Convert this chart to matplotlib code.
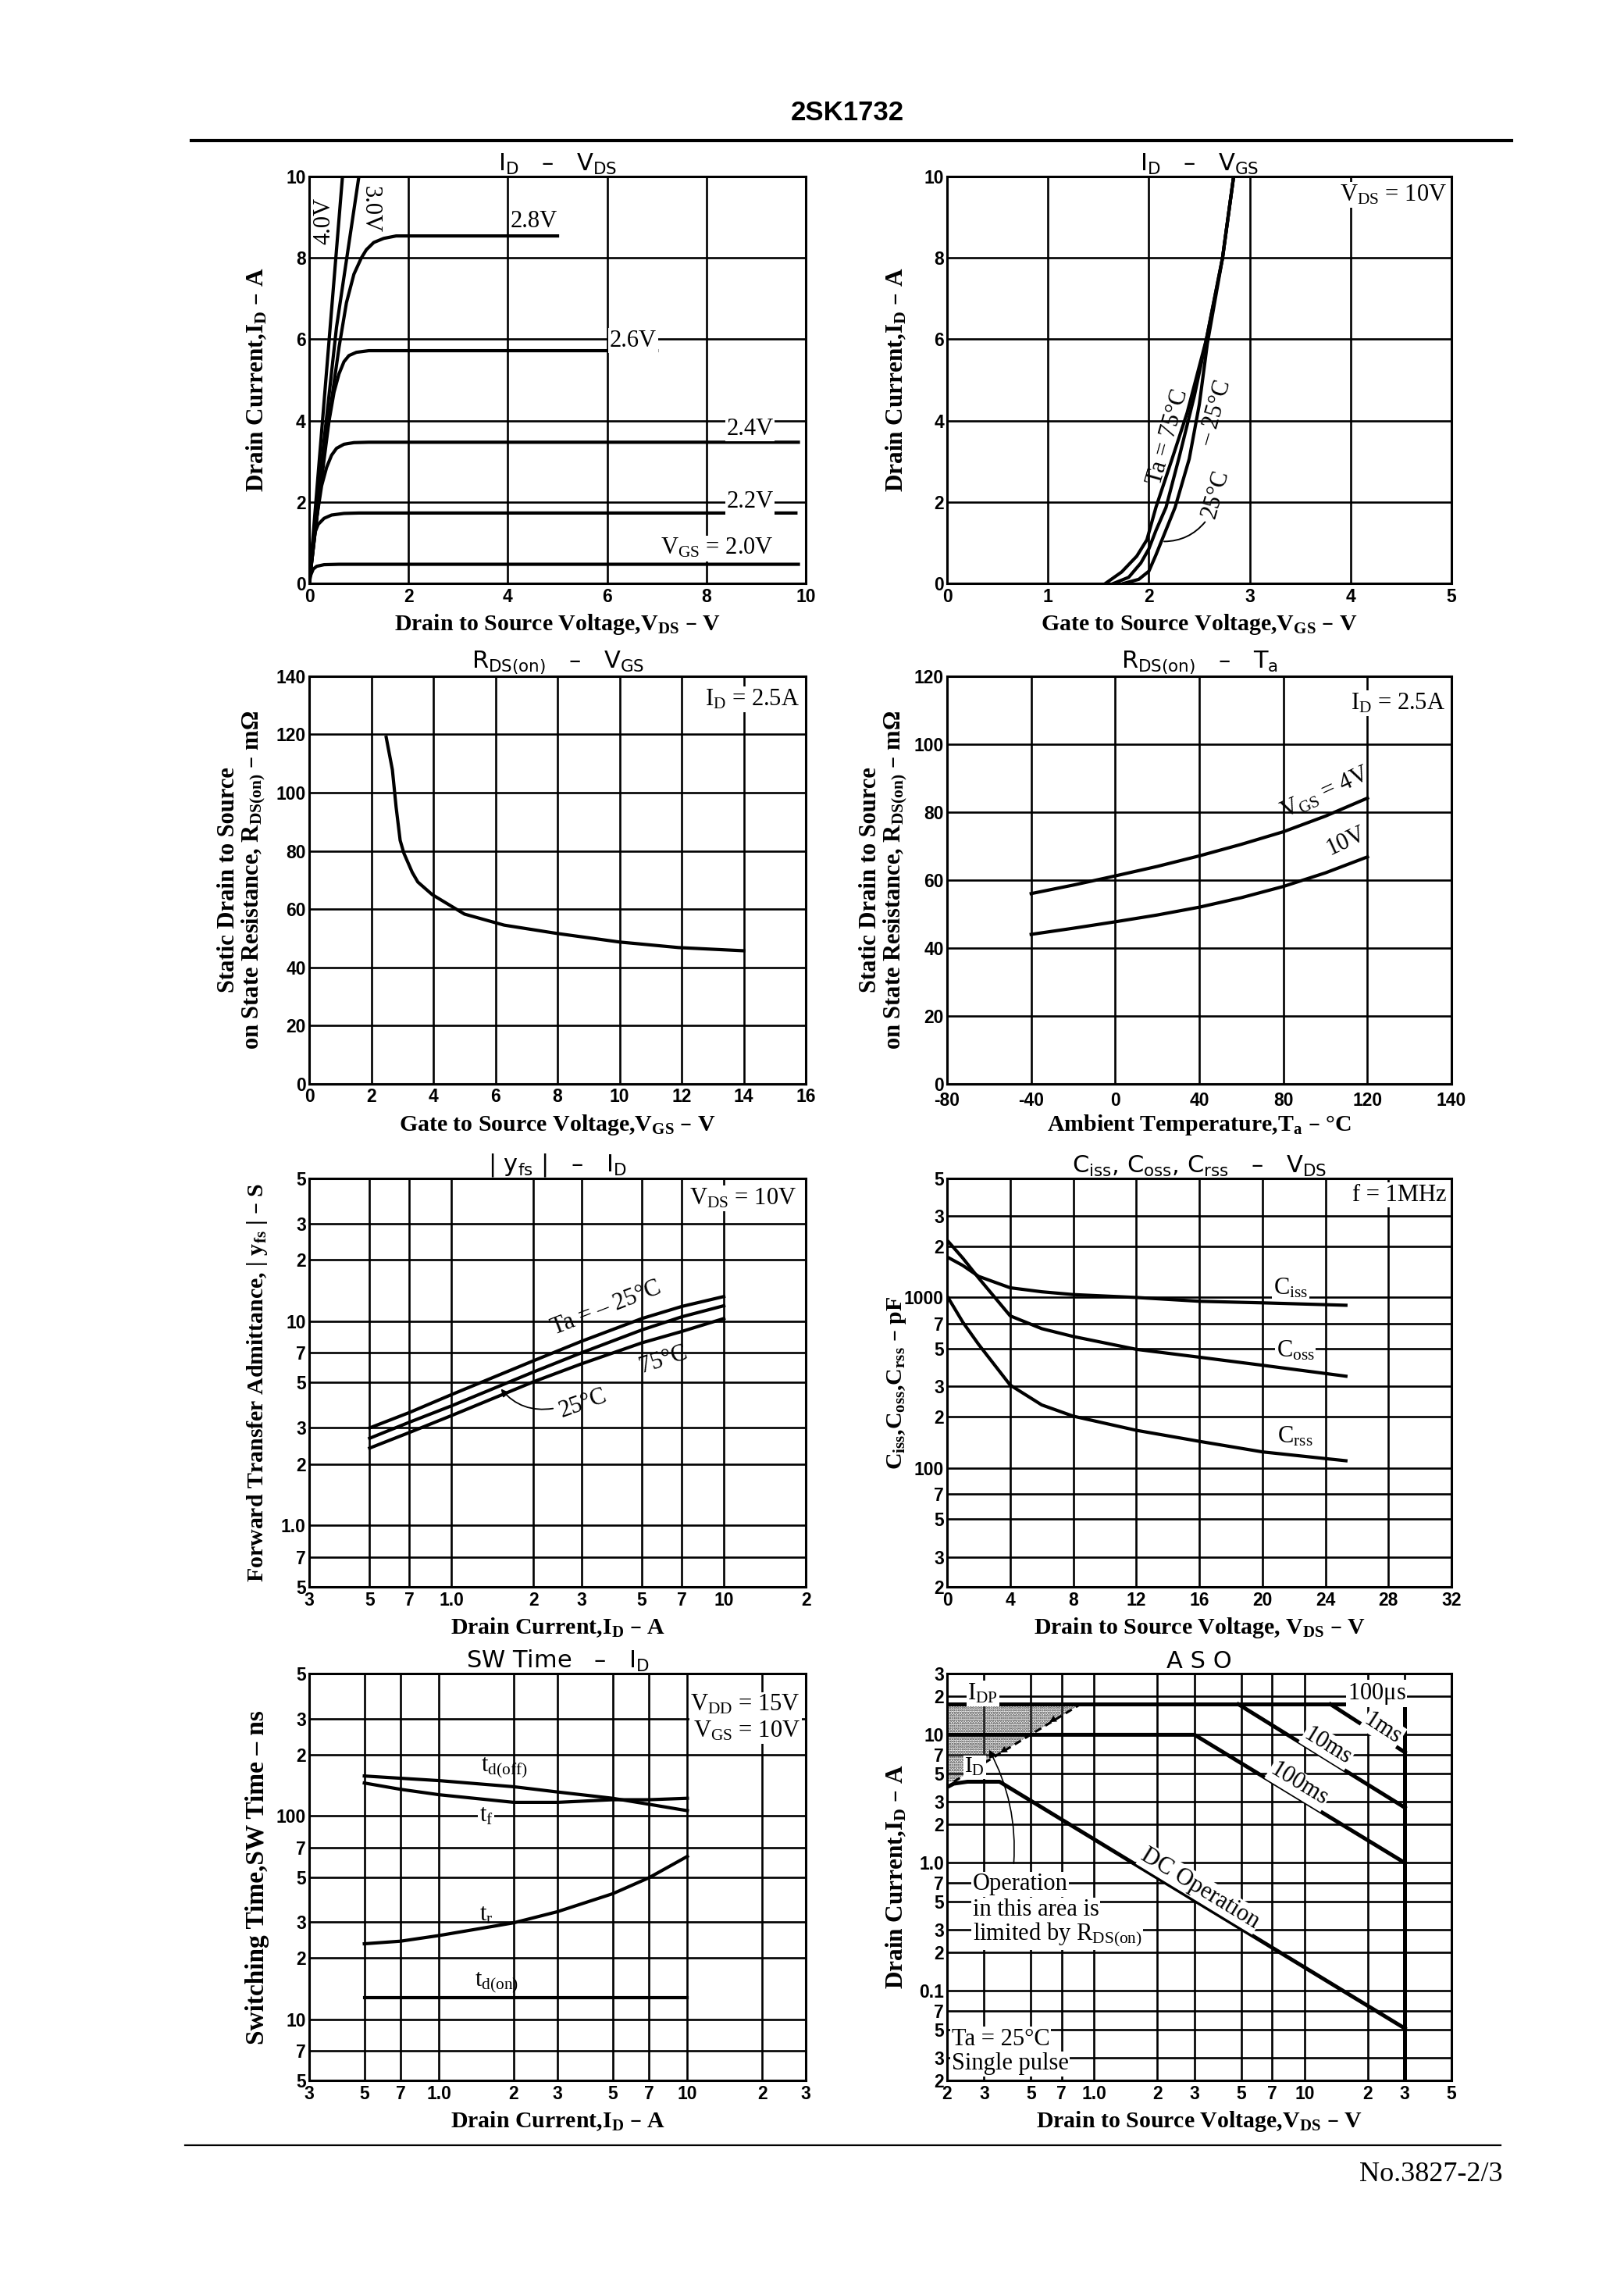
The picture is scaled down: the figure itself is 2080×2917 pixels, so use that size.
import numpy as np
import matplotlib
matplotlib.use("Agg")
import matplotlib.pyplot as plt
from matplotlib.ticker import FixedLocator, NullLocator, FixedFormatter

plt.rcParams['mathtext.default'] = 'regular'
plt.rcParams['hatch.linewidth'] = 1.6

SERIF = ['Liberation Serif', 'DejaVu Serif']
NARROW = ['Liberation Sans Narrow', 'Liberation Sans', 'DejaVu Sans']
SANS = ['DejaVu Sans']

# ---------------- DATA ----------------
# ID - VDS
idvds_vds_20 = [0, 0.03, 0.08, 0.15, 0.3, 0.6, 9.85]
idvds_id_20 = [0, 0.2, 0.35, 0.42, 0.46, 0.47, 0.47]
idvds_vds_22 = [0, 0.05, 0.1, 0.18, 0.3, 0.45, 0.7, 1.0, 9.8]
idvds_id_22 = [0, 0.8, 1.2, 1.45, 1.6, 1.68, 1.72, 1.73, 1.73]
idvds_vds_24 = [0, 0.15, 0.25, 0.35, 0.45, 0.55, 0.7, 0.9, 1.2, 9.85]
idvds_id_24 = [0, 1.6, 2.4, 2.85, 3.15, 3.32, 3.42, 3.46, 3.47, 3.47]
idvds_vds_26 = [0, 0.2, 0.4, 0.5, 0.6, 0.7, 0.8, 0.95, 1.2, 7.0]
idvds_id_26 = [0, 2.1, 4.0, 4.7, 5.15, 5.45, 5.6, 5.68, 5.72, 5.72]
idvds_vds_28 = [0, 0.3, 0.6, 0.75, 0.9, 1.05, 1.15, 1.3, 1.5, 1.75, 5.0]
idvds_id_28 = [0, 3.2, 5.8, 6.9, 7.6, 8.0, 8.2, 8.38, 8.48, 8.54, 8.54]
idvds_vds_30 = [0, 0.28, 0.55, 1.0]
idvds_id_30 = [0, 3.3, 6.3, 10.0]
idvds_vds_40 = [0, 0.67]
idvds_id_40 = [0, 10.0]

# ID - VGS
idvgs_vgs_75 = [1.57, 1.73, 1.88, 1.98, 2.07, 2.23, 2.38, 2.57, 2.73, 2.84]
idvgs_id_75 = [0, 0.28, 0.67, 1.07, 1.87, 3.06, 4.2, 6.0, 8.0, 10.0]
idvgs_vgs_25 = [1.65, 1.8, 1.92, 2.0, 2.07, 2.17, 2.3, 2.45, 2.57, 2.73, 2.84]
idvgs_id_25 = [0, 0.15, 0.5, 0.85, 1.3, 1.87, 3.1, 4.6, 6.0, 8.0, 10.0]
idvgs_vgs_m25 = [1.75, 1.9, 2.0, 2.07, 2.13, 2.26, 2.4, 2.5, 2.58, 2.73, 2.84]
idvgs_id_m25 = [0, 0.1, 0.3, 0.7, 1.07, 1.87, 3.06, 4.4, 5.9, 8.0, 10.0]

# RDS(on) - VGS
rdsvgs_vgs = [2.48, 2.68, 2.8, 2.93, 3.05, 3.32, 3.5, 3.96, 5.0, 6.28, 7.95, 10.0, 11.9, 14.0]
rdsvgs_r = [119, 107.8, 95, 83.6, 79.2, 72.6, 69.3, 65, 58.3, 54.5, 51.7, 48.7, 46.8, 45.7]

# RDS(on) - Ta
rdsta_ta = [-40, -20, 0, 20, 40, 60, 80, 100, 120]
rdsta_r_4v = [56.0, 58.5, 61.2, 64.0, 67.1, 70.5, 74.2, 78.8, 84.1]
rdsta_r_10v = [44.0, 45.8, 47.7, 49.7, 52.0, 54.8, 58.1, 62.1, 66.8]
rdsta_xtick_labels = ['-80', '-40', '0', '40', '80', '120', '140']

# |yfs| - ID
yfs_id = [0.5, 0.7, 1, 2, 3, 5, 7, 10]
yfs_m25 = [3.0, 3.57, 4.37, 6.4, 7.97, 10.3, 11.8, 13.2]
yfs_25 = [2.67, 3.2, 3.85, 5.64, 7.0, 9.06, 10.5, 11.9]
yfs_75 = [2.39, 2.85, 3.45, 5.05, 6.18, 7.83, 8.9, 10.3]

# Capacitance - VDS
cap_vds = [0, 1, 2, 4, 6, 8, 12, 16, 20, 25.3]
cap_ciss = [1730, 1540, 1330, 1140, 1080, 1040, 1000, 950, 930, 900]
cap_coss = [2170, 1700, 1300, 780, 656, 590, 496, 446, 400, 345]
cap_crss = [1020, 715, 530, 306, 234, 201, 166, 143, 124, 110]

# SW Time - ID
sw_id = [0.5, 0.7, 1, 2, 3, 5, 7, 10]
sw_tdoff = [157, 153, 149, 139, 131, 122, 114, 106]
sw_tf = [145, 135, 127, 116.5, 116.5, 120, 120, 122]
sw_tr = [23.5, 24.2, 25.8, 29.8, 33.8, 41.4, 49.6, 63.2]
sw_tdon_id = [0.5, 10]
sw_tdon = [12.8, 12.8]

# ASO
aso_idp_v = [0.2, 30]
aso_idp_i = [17.3, 17.3]
aso_vdss_v = [30, 30]
aso_vdss_i = [17.3, 0.02]
aso_1ms_v = [13.3, 30]
aso_1ms_i = [17.3, 7.3]
aso_10ms_v = [4.85, 30]
aso_10ms_i = [17.3, 2.7]
aso_100ms_v = [0.2, 3.0, 30]
aso_100ms_i = [10, 10, 1.0]
aso_dc_v = [0.2, 0.215, 0.25, 0.355, 30]
aso_dc_i = [3.9, 4.15, 4.3, 4.3, 0.051]
aso_rds_v = [0.215, 0.86]
aso_rds_i = [4.3, 17.3]

# log tick labels
yfs_xticks = [0.3, 0.5, 0.7, 1, 2, 3, 5, 7, 10, 20]
yfs_xlabels = ['3', '5', '7', '1.0', '2', '3', '5', '7', '10', '2']
yfs_yticks = [0.5, 0.7, 1, 2, 3, 5, 7, 10, 20, 30, 50]
yfs_ylabels = ['5', '7', '1.0', '2', '3', '5', '7', '10', '2', '3', '5']
cap_yticks = [20, 30, 50, 70, 100, 200, 300, 500, 700, 1000, 2000, 3000, 5000]
cap_ylabels = ['2', '3', '5', '7', '100', '2', '3', '5', '7', '1000', '2', '3', '5']
sw_xticks = [0.3, 0.5, 0.7, 1, 2, 3, 5, 7, 10, 20, 30]
sw_xlabels = ['3', '5', '7', '1.0', '2', '3', '5', '7', '10', '2', '3']
sw_yticks = [5, 7, 10, 20, 30, 50, 70, 100, 200, 300, 500]
sw_ylabels = ['5', '7', '10', '2', '3', '5', '7', '100', '2', '3', '5']
aso_xticks = [0.2, 0.3, 0.5, 0.7, 1, 2, 3, 5, 7, 10, 20, 30, 50]
aso_xlabels = ['2', '3', '5', '7', '1.0', '2', '3', '5', '7', '10', '2', '3', '5']
aso_yticks = [0.02, 0.03, 0.05, 0.07, 0.1, 0.2, 0.3, 0.5, 0.7, 1, 2, 3, 5, 7, 10, 20, 30]
aso_ylabels = ['2', '3', '5', '7', '0.1', '2', '3', '5', '7', '1.0', '2', '3', '5', '7', '10', '2', '3']

# ---------------- STYLE ----------------
GRID_LW = 1.9
CURVE_LW = 3.0
SPINE_LW = 2.2
TICK_FS = 16.5
LABEL_FS = 21.5
TITLE_FS = 22
ANN_FS = 22
WB = dict(facecolor='white', edgecolor='none', pad=1.0)

fig = plt.figure(figsize=(20.8, 29.17), dpi=100)

LX, LW = 0.1904, 0.3058
RX, RW = 0.5832, 0.3106
ROWS = [(0.7439, 0.1786), (0.5242, 0.1790), (0.3034, 0.1793), (0.0867, 0.1786)]


def make_ax(col, row):
    b, h = ROWS[row]
    if col == 0:
        return fig.add_axes([LX, b, LW, h])
    return fig.add_axes([RX, b, RW, h])


def setup(ax, xlim, ylim, xticks, xlabels, yticks, ylabels, xlog=False, ylog=False,
          title='', xlabel='', ylabel='', ylab_x=-0.105, xpad=4, ylab_fs=LABEL_FS):
    if xlog:
        ax.set_xscale('log')
    if ylog:
        ax.set_yscale('log')
    ax.set_xlim(*xlim)
    ax.set_ylim(*ylim)
    ax.xaxis.set_major_locator(FixedLocator(xticks))
    ax.xaxis.set_major_formatter(FixedFormatter(xlabels))
    ax.yaxis.set_major_locator(FixedLocator(yticks))
    ax.yaxis.set_major_formatter(FixedFormatter(ylabels))
    ax.xaxis.set_minor_locator(NullLocator())
    ax.yaxis.set_minor_locator(NullLocator())
    ax.grid(True, which='major', color='black', lw=GRID_LW)
    ax.tick_params(length=0, pad=3, labelsize=TICK_FS)
    ax.tick_params(axis='x', pad=xpad)
    for lab in ax.get_xticklabels() + ax.get_yticklabels():
        lab.set_family(NARROW)
        lab.set_fontweight('bold')
    for s in ax.spines.values():
        s.set_linewidth(SPINE_LW)
    ax.set_title(title, fontsize=TITLE_FS, family=SANS, pad=5)
    ax.set_xlabel(xlabel, fontsize=LABEL_FS, family=SERIF, fontweight='bold', va='center')
    ax.xaxis.set_label_coords(0.5, -0.1)
    ax.set_ylabel(ylabel, fontsize=ylab_fs, family=SERIF, fontweight='bold', va='center',
                  linespacing=1.0)
    ax.yaxis.set_label_coords(ylab_x, 0.5)


def txt(ax, x, y, s, ha='center', va='center', rot=0, box=True, fs=ANN_FS, **kw):
    ax.text(x, y, s, ha=ha, va=va, rotation=rot, fontsize=fs, family=SERIF,
            bbox=WB if box else None, zorder=5, rotation_mode='anchor', **kw)


def seg_angle(ax, p1, p2):
    a = ax.transData.transform([p1, p2])
    return np.degrees(np.arctan2(a[1, 1] - a[0, 1], a[1, 0] - a[0, 0]))


# ---------- Chart 1: ID - VDS ----------
ax = make_ax(0, 0)
setup(ax, (0, 10), (0, 10), [0, 2, 4, 6, 8, 10], ['0', '2', '4', '6', '8', '10'],
      [0, 2, 4, 6, 8, 10], ['0', '2', '4', '6', '8', '10'],
      title='$I_D$   –   $V_{DS}$', xlabel='Drain to Source Voltage,$V_{DS}$ – V',
      ylabel='Drain Current,$I_D$ – A', ylab_fs=22.5)
for xs, ys in [(idvds_vds_20, idvds_id_20), (idvds_vds_22, idvds_id_22),
               (idvds_vds_24, idvds_id_24), (idvds_vds_26, idvds_id_26),
               (idvds_vds_28, idvds_id_28), (idvds_vds_30, idvds_id_30),
               (idvds_vds_40, idvds_id_40)]:
    ax.plot(xs, ys, color='k', lw=CURVE_LW, solid_joinstyle='round', zorder=3)
txt(ax, 0.3, 8.9, '4.0V', rot=90, box=False)
txt(ax, 1.22, 9.2, '3.0V', rot=-90, box=False)
txt(ax, 4.05, 8.62, '2.8V', ha='left', va='bottom')
txt(ax, 6.05, 5.97, '2.6V', ha='left')
txt(ax, 9.35, 3.8, '2.4V', ha='right')
txt(ax, 9.35, 2.0, '2.2V', ha='right')
txt(ax, 9.35, 0.86, '$V_{GS}$ = 2.0V', ha='right')

# ---------- Chart 2: ID - VGS ----------
ax = make_ax(1, 0)
setup(ax, (0, 5), (0, 10), [0, 1, 2, 3, 4, 5], ['0', '1', '2', '3', '4', '5'],
      [0, 2, 4, 6, 8, 10], ['0', '2', '4', '6', '8', '10'],
      title='$I_D$   –   $V_{GS}$', xlabel='Gate to Source Voltage,$V_{GS}$ – V',
      ylabel='Drain Current,$I_D$ – A', ylab_x=-0.1, ylab_fs=22.5)
for xs, ys in [(idvgs_vgs_75, idvgs_id_75), (idvgs_vgs_25, idvgs_id_25),
               (idvgs_vgs_m25, idvgs_id_m25)]:
    ax.plot(xs, ys, color='k', lw=CURVE_LW, zorder=3)
txt(ax, 2.19, 3.6, 'Ta = 75°C', rot=74, box=False)
txt(ax, 2.66, 4.2, '– 25°C', rot=74, box=False)
txt(ax, 2.66, 2.2, '25°C', rot=74, box=False)
ax.annotate('', xy=(2.13, 1.03), xytext=(2.57, 1.55),
            arrowprops=dict(arrowstyle='-', lw=1.4, connectionstyle='arc3,rad=-0.25'))
txt(ax, 4.95, 9.55, '$V_{DS}$ = 10V', ha='right')

# ---------- Chart 3: RDS(on) - VGS ----------
ax = make_ax(0, 1)
setup(ax, (0, 16), (0, 140), list(range(0, 17, 2)), [str(v) for v in range(0, 17, 2)],
      list(range(0, 141, 20)), [str(v) for v in range(0, 141, 20)],
      title='$R_{DS(on)}$   –   $V_{GS}$', xlabel='Gate to Source Voltage,$V_{GS}$ – V',
      ylabel='Static Drain to Source\non State Resistance, $R_{DS(on)}$ – mΩ', ylab_x=-0.135,
      ylab_fs=22)
ax.plot(rdsvgs_vgs, rdsvgs_r, color='k', lw=CURVE_LW, zorder=3)
txt(ax, 15.8, 132, '$I_D$ = 2.5A', ha='right')

# ---------- Chart 4: RDS(on) - Ta ----------
ax = make_ax(1, 1)
setup(ax, (-80, 160), (0, 120), [-80, -40, 0, 40, 80, 120, 160], rdsta_xtick_labels,
      list(range(0, 121, 20)), [str(v) for v in range(0, 121, 20)],
      title='$R_{DS(on)}$   –   $T_a$', xlabel='Ambient Temperature,$T_a$ – °C',
      ylabel='Static Drain to Source\non State Resistance, $R_{DS(on)}$ – mΩ', ylab_x=-0.125,
      xpad=7, ylab_fs=22)
ax.plot(rdsta_ta, rdsta_r_4v, color='k', lw=CURVE_LW, zorder=3)
ax.plot(rdsta_ta, rdsta_r_10v, color='k', lw=CURVE_LW, zorder=3)
txt(ax, 100, 85.5, '$V_{GS}$ = 4V', rot=seg_angle(ax, (80, 74.2), (120, 84.1)) + 3, box=False)
txt(ax, 110, 71.5, '10V', rot=seg_angle(ax, (100, 62.1), (120, 66.8)) + 4, box=False)
txt(ax, 157, 112, '$I_D$ = 2.5A', ha='right')

# ---------- Chart 5: |yfs| - ID ----------
ax = make_ax(0, 2)
setup(ax, (0.3, 20), (0.5, 50), yfs_xticks, yfs_xlabels, yfs_yticks, yfs_ylabels,
      xlog=True, ylog=True, title='| $y_{fs}$ |   –   $I_D$',
      xlabel='Drain Current,$I_D$ – A', ylabel='Forward Transfer Admittance, | $y_{fs}$ | – S')
ax.plot(yfs_id, yfs_m25, color='k', lw=CURVE_LW, zorder=3)
ax.plot(yfs_id, yfs_25, color='k', lw=CURVE_LW, zorder=3)
ax.plot(yfs_id, yfs_75, color='k', lw=CURVE_LW, zorder=3)
txt(ax, 3.7, 11.6, 'Ta = – 25°C', rot=seg_angle(ax, (2, 6.4), (5, 10.3)), box=False)
txt(ax, 6.0, 6.5, '75°C', rot=seg_angle(ax, (3, 6.18), (7, 8.9)), box=False)
txt(ax, 3.05, 3.95, '25°C', rot=seg_angle(ax, (2, 5.05), (5, 7.83)), box=False)
ax.annotate('', xy=(1.5, 4.75), xytext=(2.4, 3.75),
            arrowprops=dict(arrowstyle='-|>', lw=1.3, mutation_scale=14,
                            connectionstyle='arc3,rad=-0.3', color='k'))
txt(ax, 18.5, 40, '$V_{DS}$ = 10V', ha='right')

# ---------- Chart 6: C - VDS ----------
ax = make_ax(1, 2)
setup(ax, (0, 32), (20, 5000), list(range(0, 33, 4)), [str(v) for v in range(0, 33, 4)],
      cap_yticks, cap_ylabels, ylog=True,
      title='$C_{iss}$, $C_{oss}$, $C_{rss}$   –   $V_{DS}$',
      xlabel='Drain to Source Voltage, $V_{DS}$ – V', ylabel='$C_{iss}$,$C_{oss}$,$C_{rss}$ – pF',
      ylab_x=-0.1)
ax.plot(cap_vds, cap_ciss, color='k', lw=CURVE_LW, zorder=3)
ax.plot(cap_vds, cap_coss, color='k', lw=CURVE_LW, zorder=3)
ax.plot(cap_vds, cap_crss, color='k', lw=CURVE_LW, zorder=3)
txt(ax, 21.8, 1130, '$C_{iss}$')
txt(ax, 22.1, 486, '$C_{oss}$')
txt(ax, 22.1, 152, '$C_{rss}$')
txt(ax, 31.7, 4000, 'f = 1MHz', ha='right')

# ---------- Chart 7: SW Time - ID ----------
ax = make_ax(0, 3)
setup(ax, (0.3, 30), (5, 500), sw_xticks, sw_xlabels, sw_yticks, sw_ylabels,
      xlog=True, ylog=True, title='SW Time   –   $I_D$',
      xlabel='Drain Current,$I_D$ – A', ylabel='Switching Time,SW Time – ns', ylab_fs=24)
ax.plot(sw_id, sw_tdoff, color='k', lw=CURVE_LW, zorder=3)
ax.plot(sw_id, sw_tf, color='k', lw=CURVE_LW, zorder=3)
ax.plot(sw_id, sw_tr, color='k', lw=CURVE_LW, zorder=3)
ax.plot(sw_tdon_id, sw_tdon, color='k', lw=CURVE_LW, zorder=3)
txt(ax, 1.83, 172, '$t_{d(off)}$', box=False)
txt(ax, 1.55, 100, '$t_f$')
txt(ax, 1.55, 32.5, '$t_r$', box=False)
txt(ax, 1.7, 15.2, '$t_{d(on)}$', box=False)
txt(ax, 28.5, 400, '$V_{DD}$ = 15V\n$V_{GS}$ = 10V', ha='right', va='top', linespacing=1.2)

# ---------- Chart 8: ASO ----------
ax = make_ax(1, 3)
setup(ax, (0.2, 50), (0.02, 30), aso_xticks, aso_xlabels, aso_yticks, aso_ylabels,
      xlog=True, ylog=True, title='A S O',
      xlabel='Drain to Source Voltage,$V_{DS}$ – V', ylabel='Drain Current,$I_D$ – A',
      ylab_x=-0.1, ylab_fs=22.5)
ax.fill([aso_dc_v[0], aso_idp_v[0], aso_rds_v[1], aso_rds_v[0]],
        [aso_rds_i[0], aso_idp_i[0], aso_rds_i[1], aso_rds_i[0]],
        facecolor='none', edgecolor='#444444', hatch='.....', lw=0, zorder=2)
for xs, ys in [(aso_idp_v, aso_idp_i), (aso_vdss_v, aso_vdss_i), (aso_1ms_v, aso_1ms_i),
               (aso_10ms_v, aso_10ms_i), (aso_100ms_v, aso_100ms_i), (aso_dc_v, aso_dc_i)]:
    ax.plot(xs, ys, color='k', lw=CURVE_LW + 0.6, zorder=3)
ax.plot(aso_rds_v, aso_rds_i, color='k', lw=2.2, ls=(0, (3, 2)), zorder=3)
for p0, p1 in [((0.8, 16.3), (0.6, 12.3)), ((0.47, 9.5), (0.35, 7.1))]:
    ax.annotate('', xy=p1, xytext=p0,
                arrowprops=dict(arrowstyle='-|>', lw=0, mutation_scale=16, color='k'))
ang_1ms = seg_angle(ax, (aso_1ms_v[0], aso_1ms_i[0]), (aso_1ms_v[1], aso_1ms_i[1]))
ang_10 = seg_angle(ax, (aso_10ms_v[0], aso_10ms_i[0]), (aso_10ms_v[1], aso_10ms_i[1]))
ang_100 = seg_angle(ax, (aso_100ms_v[1], aso_100ms_i[1]), (aso_100ms_v[2], aso_100ms_i[2]))
ang_dc = seg_angle(ax, (aso_dc_v[3], aso_dc_i[3]), (aso_dc_v[4], aso_dc_i[4]))
txt(ax, 0.25, 21, '$I_{DP}$', ha='left')
txt(ax, 22, 21, '100$\\mu$s')
txt(ax, 23.6, 11.2, '1ms', rot=ang_1ms)
txt(ax, 12.9, 8.2, '10ms', rot=ang_10)
txt(ax, 9.4, 4.1, '100ms', rot=ang_100)
txt(ax, 3.2, 0.63, 'DC Operation', rot=ang_dc)
txt(ax, 0.27, 5.6, '$I_D$', fs=21)
txt(ax, 0.265, 0.68, 'Operation', ha='left')
txt(ax, 0.265, 0.43, 'in this area is', ha='left')
txt(ax, 0.265, 0.275, 'limited by $R_{DS(on)}$', ha='left')
txt(ax, 0.21, 0.042, 'Ta = 25°C', ha='left')
txt(ax, 0.21, 0.027, 'Single pulse', ha='left')
ax.annotate('', xy=(0.313, 7.9), xytext=(0.414, 0.95),
            arrowprops=dict(arrowstyle='-|>', lw=1.2, mutation_scale=14,
                            connectionstyle='arc3,rad=0.15', color='k'))

# ---------- Page header / footer ----------
fig.text(0.5216, 0.9503, '2SK1732', ha='center', va='center', fontsize=25,
         family=NARROW, fontweight='bold')
fig.add_artist(plt.Line2D([0.118, 0.931], [0.9383, 0.9383], color='k', lw=3.0))
fig.add_artist(plt.Line2D([0.114, 0.924], [0.0583, 0.0583], color='k', lw=1.6))
fig.text(0.9255, 0.0453, 'No.3827-2/3', ha='right', va='center', fontsize=26, family=SERIF)

fig.savefig('out.png', dpi=100, facecolor='white')
